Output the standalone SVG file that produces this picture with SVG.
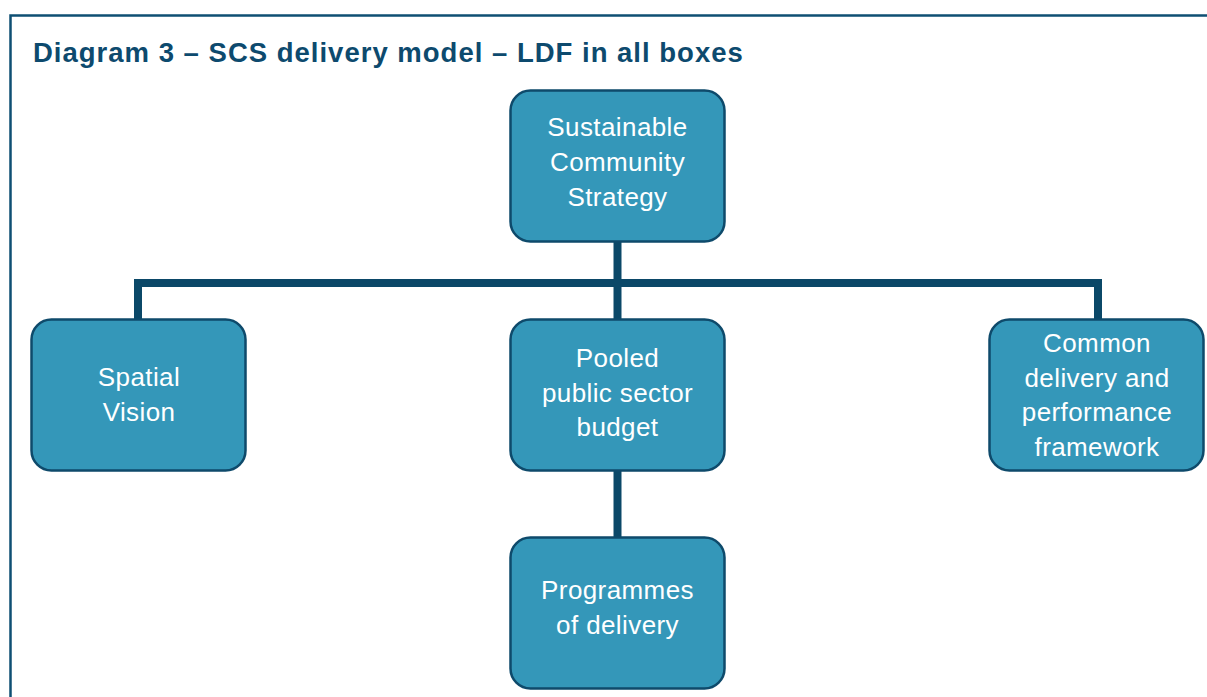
<svg xmlns="http://www.w3.org/2000/svg" width="1207" height="697" viewBox="0 0 1207 697">
<style>
.box{fill:#3497b9;stroke:#0e4a6b;stroke-width:2.5}
.lbl{font-family:"Liberation Sans",Arial,sans-serif;font-size:26px;letter-spacing:0.4px;fill:#ffffff;text-anchor:middle}
.conn{stroke:#0b4868;stroke-width:8;fill:none}
.title{font-family:"Liberation Sans",Arial,sans-serif;font-size:27.5px;letter-spacing:1px;font-weight:bold;fill:#0d4a6e}
</style>
<rect x="0" y="0" width="1207" height="697" fill="#ffffff"/>
<path d="M10.5 710 V15.5 H1220" fill="none" stroke="#0e4f73" stroke-width="2.5"/>
<text class="title" x="33" y="62">Diagram 3 – SCS delivery model – LDF in all boxes</text>
<g id="connectors">
<path class="conn" d="M617.5 241 V319"/>
<path class="conn" d="M138 319 V283 H1098 V319"/>
<path class="conn" d="M617.5 470 V537"/>
</g>
<g id="scs">
<rect class="box" x="510.5" y="90.5" width="214" height="151" rx="20"/>
<text class="lbl" x="617.5" y="136">Sustainable</text>
<text class="lbl" x="617.5" y="171">Community</text>
<text class="lbl" x="617.5" y="206">Strategy</text>
</g>
<g id="spatial">
<rect class="box" x="31.5" y="319.5" width="214" height="151" rx="20"/>
<text class="lbl" x="139" y="386">Spatial</text>
<text class="lbl" x="139" y="421">Vision</text>
</g>
<g id="pooled">
<rect class="box" x="510.5" y="319.5" width="214" height="151" rx="20"/>
<text class="lbl" x="617.5" y="367">Pooled</text>
<text class="lbl" x="617.5" y="402">public sector</text>
<text class="lbl" x="617.5" y="436">budget</text>
</g>
<g id="common">
<rect class="box" x="989.5" y="319.5" width="214" height="151" rx="20"/>
<text class="lbl" x="1097" y="352">Common</text>
<text class="lbl" x="1097" y="387">delivery and</text>
<text class="lbl" x="1097" y="421">performance</text>
<text class="lbl" x="1097" y="456">framework</text>
</g>
<g id="programmes">
<rect class="box" x="510.5" y="537.5" width="214" height="151" rx="20"/>
<text class="lbl" x="617.5" y="599">Programmes</text>
<text class="lbl" x="617.5" y="634">of delivery</text>
</g>
</svg>
